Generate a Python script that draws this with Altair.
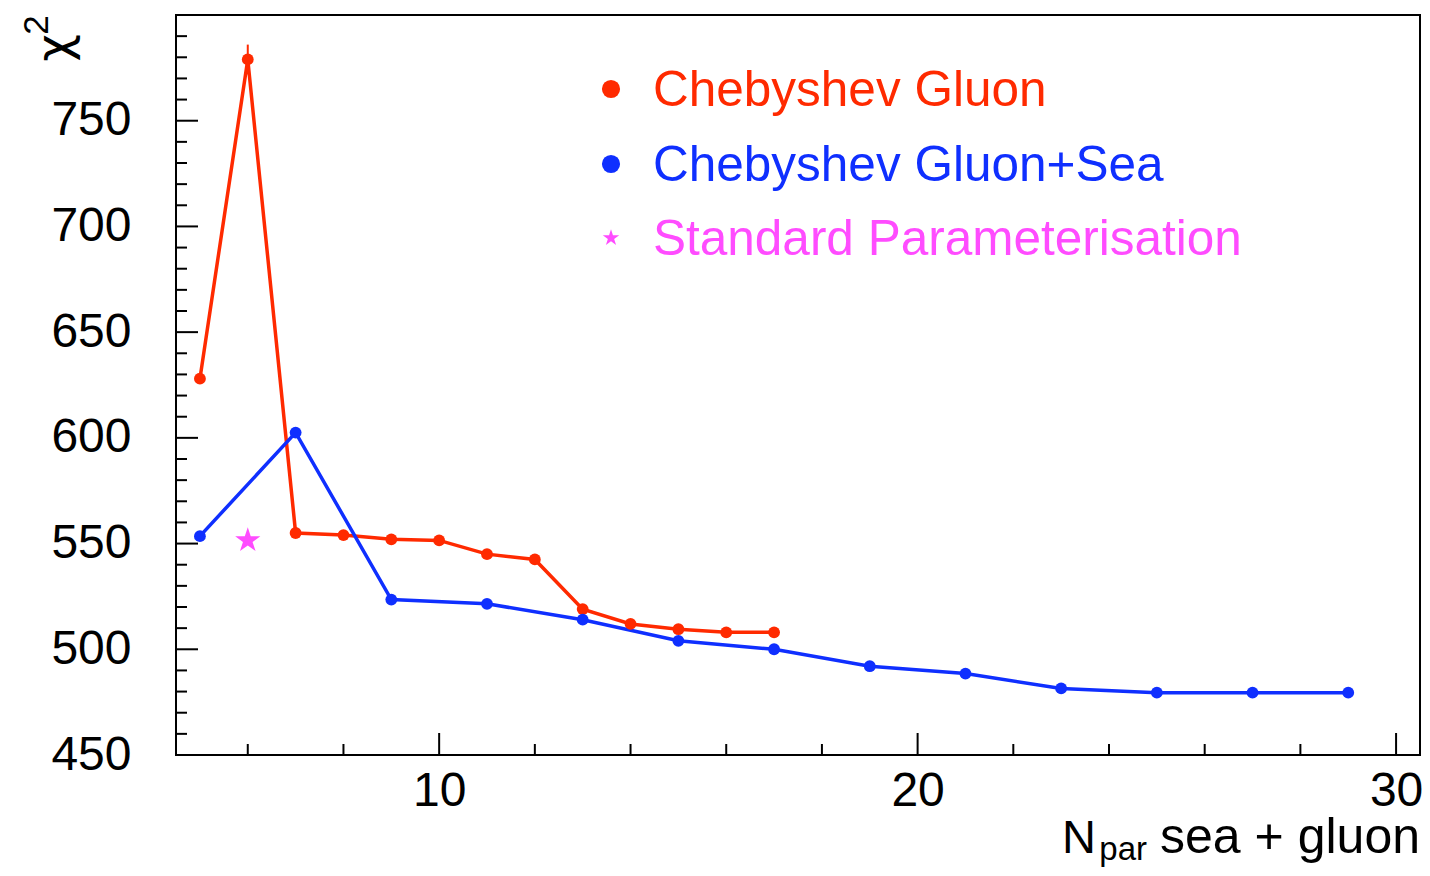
import altair as alt
import pandas as pd

FONT = "Liberation Sans"
RED = "#ff2a00"
BLUE = "#0f2fff"
MAGENTA = "#ff4cff"

# ---- data ----
red_x = [5, 6, 7, 8, 9, 10, 11, 12, 13, 14, 15, 16, 17]
red_y = [628, 779, 555, 554, 552, 551.5, 545, 542.5, 519, 512, 509.5, 508, 508]
red_err = [0, 7, 0, 0, 0, 0, 0, 0, 0, 0, 0, 0, 0]

blue_x = [5, 7, 9, 11, 13, 15, 17, 19, 21, 23, 25, 27, 29]
blue_y = [553.5, 602.5, 523.5, 521.5, 514, 504, 500, 492, 488.5, 481.5, 479.5, 479.5, 479.5]

star_x = [6]
star_y = [551.5]

legend_labels = ["Chebyshev Gluon", "Chebyshev Gluon+Sea", "Standard Parameterisation"]

x_major = [10, 20, 30]
x_minor = [6, 8, 12, 14, 16, 18, 22, 24, 26, 28]
y_major = [450, 500, 550, 600, 650, 700, 750]
y_minor = [v for v in range(460, 800, 10) if v % 50 != 0]

X_DOMAIN = [4.5, 30.5]
Y_DOMAIN = [450, 800]

W, H = 1244, 740

xs = alt.Scale(domain=X_DOMAIN, nice=False, zero=False)
ys = alt.Scale(domain=Y_DOMAIN, nice=False, zero=False)

xax = alt.Axis(values=x_major, ticks=False, domain=False, grid=False,
               labelFontSize=48, labelFont=FONT, labelColor="black",
               labelPadding=12, title=None, labelFlush=False, labelOverlap=False)
yax = alt.Axis(values=y_major, ticks=False, domain=False, grid=False,
               labelFontSize=48, labelFont=FONT, labelColor="black",
               labelPadding=45, title=None, labelFlush=False, labelOverlap=False)

red_df = pd.DataFrame({"n": red_x, "chi2": red_y,
                       "lo": [v - e for v, e in zip(red_y, red_err)],
                       "hi": [v + e for v, e in zip(red_y, red_err)]})
blue_df = pd.DataFrame({"n": blue_x, "chi2": blue_y})
star_df = pd.DataFrame({"n": star_x, "chi2": star_y})

STAR_PATH = ("M0,-1L0.2245,-0.309L0.951,-0.309L0.363,0.118L0.588,0.809"
             "L0,0.382L-0.588,0.809L-0.363,0.118L-0.951,-0.309L-0.2245,-0.309Z")

base_red = alt.Chart(red_df)
red_line = base_red.mark_line(color=RED, strokeWidth=3.5).encode(
    x=alt.X("n:Q", scale=xs, axis=xax), y=alt.Y("chi2:Q", scale=ys, axis=yax))
red_errbar = base_red.mark_rule(color=RED, strokeWidth=2).encode(
    x=alt.X("n:Q", scale=xs), y=alt.Y("lo:Q", scale=ys), y2="hi:Q")
red_pts = base_red.mark_circle(color=RED, size=140, opacity=1).encode(
    x=alt.X("n:Q", scale=xs), y=alt.Y("chi2:Q", scale=ys))

base_blue = alt.Chart(blue_df)
blue_line = base_blue.mark_line(color=BLUE, strokeWidth=3.5).encode(
    x=alt.X("n:Q", scale=xs), y=alt.Y("chi2:Q", scale=ys))
blue_pts = base_blue.mark_circle(color=BLUE, size=140, opacity=1).encode(
    x=alt.X("n:Q", scale=xs), y=alt.Y("chi2:Q", scale=ys))

star_pts = alt.Chart(star_df).mark_point(shape=STAR_PATH, filled=True, color=MAGENTA,
                                          size=700, opacity=1, strokeWidth=0).encode(
    x=alt.X("n:Q", scale=xs), y=alt.Y("chi2:Q", scale=ys))

# ---- inside ticks (ROOT style) ----
ymaj_df = pd.DataFrame({"chi2": y_major})
ymin_df = pd.DataFrame({"chi2": y_minor})
xmaj_df = pd.DataFrame({"n": x_major})
xmin_df = pd.DataFrame({"n": x_minor})

ytick_major = alt.Chart(ymaj_df).mark_rule(color="black", strokeWidth=2).encode(
    y=alt.Y("chi2:Q", scale=ys), x=alt.value(0), x2=alt.value(22))
ytick_minor = alt.Chart(ymin_df).mark_rule(color="black", strokeWidth=2).encode(
    y=alt.Y("chi2:Q", scale=ys), x=alt.value(0), x2=alt.value(11))
xtick_major = alt.Chart(xmaj_df).mark_rule(color="black", strokeWidth=2).encode(
    x=alt.X("n:Q", scale=xs), y=alt.value(H), y2=alt.value(H - 22))
xtick_minor = alt.Chart(xmin_df).mark_rule(color="black", strokeWidth=2).encode(
    x=alt.X("n:Q", scale=xs), y=alt.value(H), y2=alt.value(H - 11))

# ---- legend (drawn by hand, ROOT style) ----
def txt(s, x, y, size, color="black", align="left", baseline="middle", angle=0, font=FONT):
    return alt.Chart(pd.DataFrame({"t": [s]})).mark_text(
        font=font, fontSize=size, color=color, align=align, baseline=baseline,
        angle=angle).encode(x=alt.value(x), y=alt.value(y), text="t:N")

leg_colors = [RED, BLUE, MAGENTA]
leg_y = [74, 149, 223]
legend_layers = []
for lab, col, yy in zip(legend_labels, leg_colors, leg_y):
    legend_layers.append(txt(lab, 477, yy + 2, 49.5, color=col))
legend_layers.append(alt.Chart(pd.DataFrame({"t": ["a"]})).mark_circle(
    color=RED, size=330, opacity=1).encode(x=alt.value(435), y=alt.value(leg_y[0])))
legend_layers.append(alt.Chart(pd.DataFrame({"t": ["b"]})).mark_circle(
    color=BLUE, size=330, opacity=1).encode(x=alt.value(435), y=alt.value(leg_y[1])))
legend_layers.append(alt.Chart(pd.DataFrame({"t": ["c"]})).mark_point(
    shape=STAR_PATH, filled=True, color=MAGENTA, size=300, opacity=1, strokeWidth=0).encode(
    x=alt.value(435), y=alt.value(leg_y[2])))

# ---- axis titles ----
ytitle_chi = txt("χ", -106, 33, 48, align="center", baseline="alphabetic",
                 angle=270, font="DejaVu Sans")
ytitle_sup = txt("2", -128, 10, 35, align="center", baseline="alphabetic", angle=270)
xt_rest = txt("sea + gluon", 1244, 838, 50, align="right", baseline="alphabetic")
xt_sub = txt("par", 971, 845, 33, align="right", baseline="alphabetic")
xt_N = txt("N", 920, 838, 47, align="right", baseline="alphabetic")

chart = alt.layer(
    red_line, blue_line, red_errbar, red_pts, blue_pts, star_pts,
    ytick_major, ytick_minor, xtick_major, xtick_minor,
    *legend_layers, ytitle_chi, ytitle_sup, xt_rest, xt_sub, xt_N,
).properties(
    width=W, height=H,
    autosize=alt.AutoSizeParams(type="none"),
    padding={"left": 168, "top": 7, "right": 2, "bottom": 113},
    background="white",
).configure_view(stroke="black", strokeWidth=2)

chart.save("out.html", embed_options={"renderer": "svg", "actions": False})
